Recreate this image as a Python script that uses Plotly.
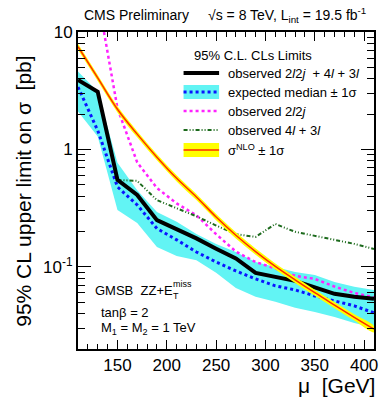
import plotly.graph_objects as go

# ---------------- data ----------------
mu = [110, 130, 150, 170, 190, 210, 230, 250, 270, 290, 310, 330, 350, 370, 390, 410]

obs_all = [3.9, 3.1, 0.55, 0.41, 0.25, 0.21, 0.175, 0.143, 0.118, 0.089, 0.082, 0.076, 0.067, 0.059, 0.0556, 0.0535]
exp_med = [3.4, 1.45, 0.48, 0.337, 0.212, 0.17, 0.134, 0.110, 0.0925, 0.079, 0.069, 0.0637, 0.0566, 0.0514, 0.0466, 0.0406]
exp_up = [4.6, 3.1, 0.77, 0.45, 0.294, 0.242, 0.191, 0.157, 0.134, 0.110, 0.100, 0.0906, 0.0855, 0.0745, 0.0676, 0.0637]
exp_dn = [2.1, 1.29, 0.305, 0.237, 0.148, 0.124, 0.114, 0.089, 0.066, 0.0556, 0.0504, 0.0448, 0.0414, 0.0375, 0.0333, 0.0303]

mu_2l2j = [130, 150, 170, 190, 210, 230, 250, 270, 290, 310, 330, 350, 370, 390, 410]
obs_2l2j = [20.0, 2.24, 0.776, 0.47, 0.347, 0.275, 0.19, 0.135, 0.11, 0.097, 0.084, 0.079, 0.068, 0.06, 0.055]

mu_4l3l = [150, 170, 190, 210, 230, 250, 270, 290, 310, 330, 350, 370, 390, 410]
obs_4l3l = [0.55, 0.54, 0.37, 0.315, 0.27, 0.225, 0.19, 0.18, 0.232, 0.199, 0.184, 0.17, 0.157, 0.142]

sigma_nlo = [7.5, 4.07, 2.2, 1.35, 0.86, 0.568, 0.394, 0.266, 0.186, 0.135, 0.101, 0.0776, 0.0603, 0.0473, 0.0372, 0.0295]
sigma_rel_unc = 0.06

xtickvals = [150, 200, 250, 300, 350, 400]
ytickvals = [0.1, 1, 10]
yticktext = ["10<sup>-1</sup>", "1", "10"]

# ---------------- styling ----------------
FONT = "Liberation Sans, Arial, Helvetica, sans-serif"
CYAN = "#62f4f4"
BLUE = "#0a14ff"
MAGENTA = "#ff22ff"
GREEN = "#1c6a1c"
YELLOW = "#ffff00"
RED = "#ff2a00"

theo_up = [v * (1 + sigma_rel_unc) for v in sigma_nlo]
theo_dn = [v * (1 - sigma_rel_unc) for v in sigma_nlo]

fig = go.Figure()

# expected band
fig.add_trace(go.Scatter(x=mu + mu[::-1], y=exp_up + exp_dn[::-1], fill="toself",
                         fillcolor=CYAN, line=dict(width=0), mode="lines",
                         hoverinfo="skip", showlegend=False))
# expected median
fig.add_trace(go.Scatter(x=mu, y=exp_med, mode="lines",
                         line=dict(color=BLUE, width=3, dash="dot"), showlegend=False))
# observed 2l2j
fig.add_trace(go.Scatter(x=mu_2l2j, y=obs_2l2j, mode="lines",
                         line=dict(color=MAGENTA, width=2.5, dash="dot"), showlegend=False))
# observed 4l+3l
fig.add_trace(go.Scatter(x=mu_4l3l, y=obs_4l3l, mode="lines",
                         line=dict(color=GREEN, width=2, dash="4px,2px,1px,2px,1px,2px"), showlegend=False))
# observed combined
fig.add_trace(go.Scatter(x=mu, y=obs_all, mode="lines",
                         line=dict(color="black", width=4), showlegend=False))
# theory band + line
fig.add_trace(go.Scatter(x=mu + mu[::-1], y=theo_up + theo_dn[::-1], fill="toself",
                         fillcolor=YELLOW, line=dict(width=0, shape="spline"), mode="lines",
                         hoverinfo="skip", showlegend=False))
fig.add_trace(go.Scatter(x=mu, y=sigma_nlo, mode="lines",
                         line=dict(color=RED, width=1.5, shape="spline"), showlegend=False))

L, R, T, B = 78, 8, 32, 50
W, H = 386, 399
PW, PH = W - L - R, H - T - B


def px(x):
    return (x - L) / PW


def py(y):
    return (H - B - y) / PH


shapes = []
annotations = []

# legend header
annotations.append(dict(x=px(255), y=py(55), xref="paper", yref="paper", text="95% C.L. CLs Limits",
                        showarrow=False, font=dict(family=FONT, size=13, color="black"),
                        xanchor="center", yanchor="middle"))
rows = [73, 92, 111, 130, 150]
sx0, sx1 = px(185), px(221)
tx = px(228)
# black line
shapes.append(dict(type="line", xref="paper", yref="paper", x0=sx0, x1=sx1, y0=py(rows[0]), y1=py(rows[0]),
                   line=dict(color="black", width=4)))
# cyan box + blue dots
shapes.append(dict(type="rect", xref="paper", yref="paper", x0=sx0, x1=sx1, y0=py(rows[1] + 7), y1=py(rows[1] - 7),
                   fillcolor=CYAN, line=dict(width=0)))
shapes.append(dict(type="line", xref="paper", yref="paper", x0=sx0, x1=sx1, y0=py(rows[1]), y1=py(rows[1]),
                   line=dict(color=BLUE, width=3, dash="dot")))
# magenta
shapes.append(dict(type="line", xref="paper", yref="paper", x0=sx0, x1=sx1, y0=py(rows[2]), y1=py(rows[2]),
                   line=dict(color=MAGENTA, width=2.5, dash="dot")))
# green
shapes.append(dict(type="line", xref="paper", yref="paper", x0=sx0, x1=sx1, y0=py(rows[3]), y1=py(rows[3]),
                   line=dict(color=GREEN, width=2, dash="4px,2px,1px,2px,1px,2px")))
# yellow box + red line
shapes.append(dict(type="rect", xref="paper", yref="paper", x0=sx0, x1=sx1, y0=py(rows[4] + 7), y1=py(rows[4] - 7),
                   fillcolor=YELLOW, line=dict(width=0)))
shapes.append(dict(type="line", xref="paper", yref="paper", x0=sx0, x1=sx1, y0=py(rows[4]), y1=py(rows[4]),
                   line=dict(color=RED, width=1.5)))

leg_texts = [
    "observed 2<i>l</i>2<i>j</i>  + 4<i>l</i> + 3<i>l</i>",
    "expected median ± 1σ",
    "observed 2<i>l</i>2<i>j</i>",
    "observed 4<i>l</i> + 3<i>l</i>",
    "σ<sup>NLO</sup> ± 1σ",
]
for r, t in zip(rows, leg_texts):
    annotations.append(dict(x=tx, y=py(r), xref="paper", yref="paper", text=t, showarrow=False,
                            font=dict(family=FONT, size=13, color="black"), xanchor="left", yanchor="middle"))

# model text (bottom left)
annotations.append(dict(x=px(93), y=py(290), xref="paper", yref="paper", text="GMSB  ZZ+E",
                        showarrow=False, font=dict(family=FONT, size=13, color="black"),
                        xanchor="left", yanchor="middle"))
annotations.append(dict(x=px(172), y=py(284), xref="paper", yref="paper", text="miss",
                        showarrow=False, font=dict(family=FONT, size=9, color="black"),
                        xanchor="left", yanchor="middle"))
annotations.append(dict(x=px(172), y=py(296), xref="paper", yref="paper", text="T",
                        showarrow=False, font=dict(family=FONT, size=9, color="black"),
                        xanchor="left", yanchor="middle"))
annotations.append(dict(x=px(99), y=py(312), xref="paper", yref="paper", text="tanβ = 2",
                        showarrow=False, font=dict(family=FONT, size=13, color="black"),
                        xanchor="left", yanchor="middle"))
annotations.append(dict(x=px(99), y=py(328), xref="paper", yref="paper",
                        text="M<sub>1</sub> = M<sub>2</sub> = 1 TeV",
                        showarrow=False, font=dict(family=FONT, size=13, color="black"),
                        xanchor="left", yanchor="middle"))

# title
annotations.append(dict(x=px(82), y=py(15), xref="paper", yref="paper", text="CMS Preliminary",
                        showarrow=False, font=dict(family=FONT, size=14, color="black"),
                        xanchor="left", yanchor="middle"))
annotations.append(dict(x=px(372), y=py(15), xref="paper", yref="paper",
                        text="√s = 8 TeV, L<sub>int</sub> = 19.5 fb<sup>-1</sup>",
                        showarrow=False, font=dict(family=FONT, size=14, color="black"),
                        xanchor="right", yanchor="middle"))

# axis titles
annotations.append(dict(x=px(381), y=py(385), xref="paper", yref="paper", text="μ  [GeV]",
                        showarrow=False, font=dict(family=FONT, size=21, color="black"),
                        xanchor="right", yanchor="middle"))
annotations.append(dict(x=px(22), y=py(191), xref="paper", yref="paper",
                        text="95% CL upper limit on σ  [pb]", textangle=-90,
                        showarrow=False, font=dict(family=FONT, size=21, color="black"),
                        xanchor="center", yanchor="middle"))

minor_y = [v * m for v in (0.01, 0.1, 1) for m in range(2, 10)]

fig.update_layout(
    width=W, height=H,
    margin=dict(l=L, r=R, t=T, b=B, pad=0),
    paper_bgcolor="white", plot_bgcolor="white",
    showlegend=False,
    shapes=shapes, annotations=annotations,
    font=dict(family=FONT, color="black"),
    xaxis=dict(range=[110, 410], tickvals=xtickvals, ticks="inside", ticklen=9, tickwidth=1,
               tickcolor="black", showline=True, linecolor="black", linewidth=2, mirror="allticks",
               showgrid=False, zeroline=False, tickfont=dict(family=FONT, size=17, color="black"),
               ticklabelstandoff=0,
               minor=dict(dtick=10, tick0=110, ticks="inside", ticklen=5, tickcolor="black", showgrid=False)),
    yaxis=dict(type="log", range=[-1.699, 1], tickvals=ytickvals, ticktext=yticktext,
               ticks="inside", ticklen=13, tickwidth=1, tickcolor="black", showline=True,
               linecolor="black", linewidth=2, mirror="allticks", showgrid=False, zeroline=False,
               tickfont=dict(family=FONT, size=17, color="black"),
               minor=dict(tickvals=minor_y, ticks="inside", ticklen=7, tickcolor="black", showgrid=False)),
)

fig.write_html("out.html", config={"displayModeBar": False},
               post_script="document.body.style.margin='0';document.body.style.overflow='hidden';")
